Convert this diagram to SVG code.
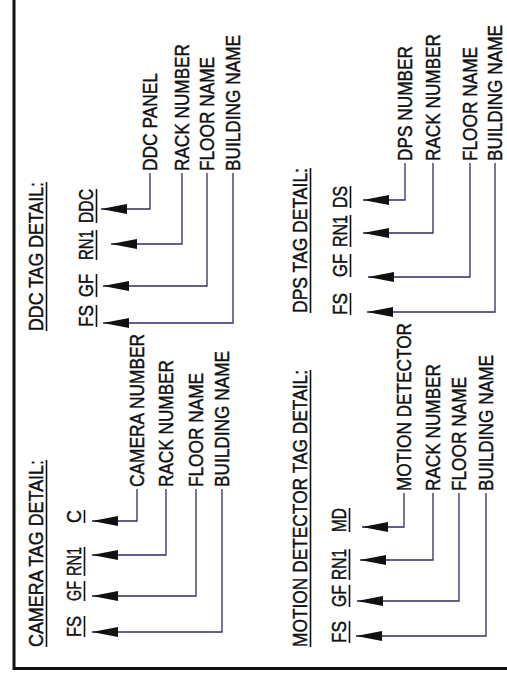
<svg xmlns="http://www.w3.org/2000/svg" width="507" height="693" viewBox="0 0 507 693">
<defs>
<style>
text{font-family:"Liberation Sans",Arial,sans-serif;font-size:21px;fill:#111;stroke:#111;stroke-width:0.45;}
.ul{stroke:#111;stroke-width:1.6;fill:none;}
.frame{stroke:#111;stroke-width:3;fill:none;}
.conn{stroke:#2e2e66;stroke-width:1.3;fill:none;marker-end:url(#ah);}
</style>
<marker id="ah" viewBox="0 0 26 10" markerWidth="26" markerHeight="10" refX="26" refY="5" orient="auto" markerUnits="userSpaceOnUse">
<path d="M0,0 L26,5 L0,10 Z" fill="#111"/>
</marker>
</defs>
<rect x="0" y="0" width="507" height="693" fill="#fff"/>
<g transform="translate(0,693) rotate(-90)">
<path class="frame" d="M693,14 H24.5 V507"/>

<g id="camera-title"><text x="46" y="43" textLength="187" lengthAdjust="spacingAndGlyphs">CAMERA TAG DETAIL:</text><line class="ul" x1="46" y1="46.5" x2="233" y2="46.5"/></g>
<g id="camera-tag">
<text x="56" y="81" textLength="21" lengthAdjust="spacingAndGlyphs">FS</text>
<text x="92" y="81" textLength="20" lengthAdjust="spacingAndGlyphs">GF</text>
<text x="117" y="81" textLength="29" lengthAdjust="spacingAndGlyphs">RN1</text>
<text x="170" y="81" textLength="13" lengthAdjust="spacingAndGlyphs">C</text>
<line class="ul" x1="56" y1="84.5" x2="77" y2="84.5"/><line class="ul" x1="92" y1="84.5" x2="112" y2="84.5"/><line class="ul" x1="117" y1="84.5" x2="146" y2="84.5"/><line class="ul" x1="170" y1="84.5" x2="183" y2="84.5"/>
</g>
<g id="camera-number"><text x="206" y="144" textLength="153" lengthAdjust="spacingAndGlyphs">CAMERA NUMBER</text></g>
<g id="camera-rack"><text x="206" y="173" textLength="127" lengthAdjust="spacingAndGlyphs">RACK NUMBER</text></g>
<g id="camera-floor"><text x="206" y="203" textLength="114" lengthAdjust="spacingAndGlyphs">FLOOR NAME</text></g>
<g id="camera-building"><text x="206" y="229" textLength="136" lengthAdjust="spacingAndGlyphs">BUILDING NAME</text></g>

<g id="ddc-title"><text x="362" y="43" textLength="149" lengthAdjust="spacingAndGlyphs">DDC TAG DETAIL:</text><line class="ul" x1="362" y1="46.5" x2="511" y2="46.5"/></g>
<g id="ddc-tag">
<text x="366" y="93" textLength="22" lengthAdjust="spacingAndGlyphs">FS</text>
<text x="396" y="93" textLength="23" lengthAdjust="spacingAndGlyphs">GF</text>
<text x="433" y="93" textLength="30" lengthAdjust="spacingAndGlyphs">RN1</text>
<text x="470" y="93" textLength="34" lengthAdjust="spacingAndGlyphs">DDC</text>
<line class="ul" x1="366" y1="96.5" x2="388" y2="96.5"/><line class="ul" x1="396" y1="96.5" x2="419" y2="96.5"/><line class="ul" x1="433" y1="96.5" x2="463" y2="96.5"/><line class="ul" x1="470" y1="96.5" x2="504" y2="96.5"/>
</g>
<g id="ddc-panel"><text x="522" y="157" textLength="98" lengthAdjust="spacingAndGlyphs">DDC PANEL</text></g>
<g id="ddc-rack"><text x="522" y="189" textLength="127" lengthAdjust="spacingAndGlyphs">RACK NUMBER</text></g>
<g id="ddc-floor"><text x="522" y="214" textLength="114" lengthAdjust="spacingAndGlyphs">FLOOR NAME</text></g>
<g id="ddc-building"><text x="522" y="240" textLength="136" lengthAdjust="spacingAndGlyphs">BUILDING NAME</text></g>

<g id="md-title"><text x="46" y="307" textLength="277" lengthAdjust="spacingAndGlyphs">MOTION DETECTOR TAG DETAIL:</text><line class="ul" x1="46" y1="310.5" x2="323" y2="310.5"/></g>
<g id="md-tag">
<text x="50" y="346" textLength="22" lengthAdjust="spacingAndGlyphs">FS</text>
<text x="86" y="346" textLength="22" lengthAdjust="spacingAndGlyphs">GF</text>
<text x="113" y="346" textLength="31" lengthAdjust="spacingAndGlyphs">RN1</text>
<text x="161" y="346" textLength="24" lengthAdjust="spacingAndGlyphs">MD</text>
<line class="ul" x1="50" y1="349.5" x2="72" y2="349.5"/><line class="ul" x1="86" y1="349.5" x2="108" y2="349.5"/><line class="ul" x1="113" y1="349.5" x2="144" y2="349.5"/><line class="ul" x1="161" y1="349.5" x2="185" y2="349.5"/>
</g>
<g id="md-detector"><text x="202" y="411" textLength="168" lengthAdjust="spacingAndGlyphs">MOTION DETECTOR</text></g>
<g id="md-rack"><text x="202" y="440" textLength="127" lengthAdjust="spacingAndGlyphs">RACK NUMBER</text></g>
<g id="md-floor"><text x="202" y="466" textLength="114" lengthAdjust="spacingAndGlyphs">FLOOR NAME</text></g>
<g id="md-building"><text x="202" y="493" textLength="136" lengthAdjust="spacingAndGlyphs">BUILDING NAME</text></g>

<g id="dps-title"><text x="380" y="307" textLength="145" lengthAdjust="spacingAndGlyphs">DPS TAG DETAIL:</text><line class="ul" x1="380" y1="310.5" x2="525" y2="310.5"/></g>
<g id="dps-tag">
<text x="378" y="347" textLength="22" lengthAdjust="spacingAndGlyphs">FS</text>
<text x="416" y="347" textLength="23" lengthAdjust="spacingAndGlyphs">GF</text>
<text x="446" y="347" textLength="32" lengthAdjust="spacingAndGlyphs">RN1</text>
<text x="485" y="347" textLength="22" lengthAdjust="spacingAndGlyphs">DS</text>
<line class="ul" x1="378" y1="350.5" x2="400" y2="350.5"/><line class="ul" x1="416" y1="350.5" x2="439" y2="350.5"/><line class="ul" x1="446" y1="350.5" x2="478" y2="350.5"/><line class="ul" x1="485" y1="350.5" x2="507" y2="350.5"/>
</g>
<g id="dps-number"><text x="532" y="412" textLength="115" lengthAdjust="spacingAndGlyphs">DPS NUMBER</text></g>
<g id="dps-rack"><text x="532" y="440" textLength="127" lengthAdjust="spacingAndGlyphs">RACK NUMBER</text></g>
<g id="dps-floor"><text x="532" y="477" textLength="114" lengthAdjust="spacingAndGlyphs">FLOOR NAME</text></g>
<g id="dps-building"><text x="532" y="502" textLength="136" lengthAdjust="spacingAndGlyphs" style="font-size:20px">BUILDING NAME</text></g>

<g id="connectors">
<path class="conn" d="M204,137 H172 V92"/>
<path class="conn" d="M204,166 H138 V92"/>
<path class="conn" d="M204,196 H97 V92"/>
<path class="conn" d="M204,222 H61 V92"/>
<path class="conn" d="M520,150 H484 V101"/>
<path class="conn" d="M520,182 H449 V111"/>
<path class="conn" d="M520,207 H407 V103"/>
<path class="conn" d="M520,233 H370 V103"/>
<path class="conn" d="M200,404 H166 V362"/>
<path class="conn" d="M200,433 H133 V360"/>
<path class="conn" d="M200,459 H92 V357"/>
<path class="conn" d="M200,486 H57 V356"/>
<path class="conn" d="M530,405 H493 V363"/>
<path class="conn" d="M530,433 H460 V363"/>
<path class="conn" d="M530,470 H416 V368"/>
<path class="conn" d="M530,495 H381 V367"/>
</g>
</g>
</svg>
